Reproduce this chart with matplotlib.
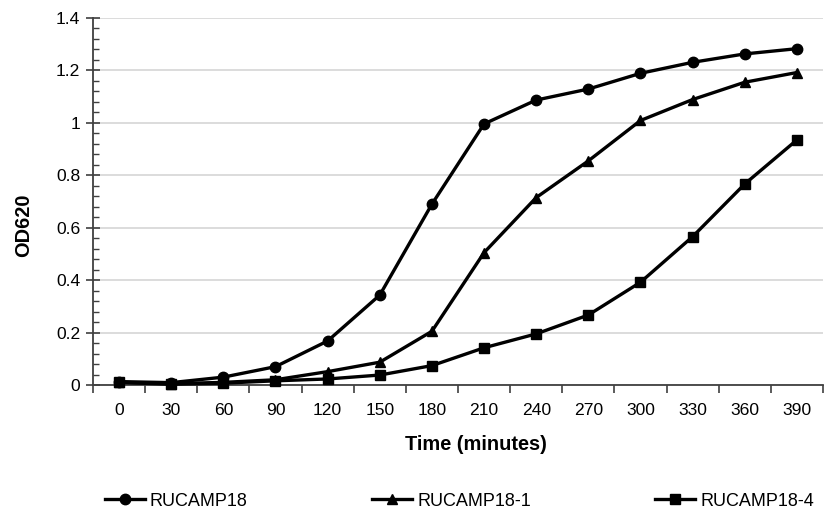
import numpy as np
import matplotlib
matplotlib.use("Agg")
import matplotlib.pyplot as plt
from matplotlib.ticker import FixedLocator, MultipleLocator, FixedFormatter

plt.rcParams['font.family'] = ['Liberation Sans', 'DejaVu Sans']

times = [0, 30, 60, 90, 120, 150, 180, 210, 240, 270, 300, 330, 360, 390]
rucamp18 = [0.013, 0.009, 0.03, 0.07, 0.168, 0.343, 0.69, 0.996, 1.087, 1.129,
            1.189, 1.231, 1.263, 1.283]
rucamp18_1 = [0.01, 0.005, 0.01, 0.02, 0.051, 0.087, 0.205, 0.505, 0.715, 0.855,
              1.009, 1.089, 1.155, 1.192]
rucamp18_4 = [0.01, 0.003, 0.007, 0.016, 0.023, 0.038, 0.074, 0.142, 0.195, 0.267,
              0.392, 0.566, 0.767, 0.935]


def main():
    fig = plt.figure(figsize=(8.29, 5.14), dpi=100)
    ax = fig.add_axes([93 / 829, 129 / 514, 730 / 829, 367 / 514])

    x = np.arange(len(times))
    style = dict(color='black', lw=2.4, markersize=7.5, clip_on=False, zorder=3)
    ax.plot(x, rucamp18, marker='o', label='RUCAMP18', **style)
    ax.plot(x, rucamp18_1, marker='^', label='RUCAMP18-1', **style)
    ax.plot(x, rucamp18_4, marker='s', label='RUCAMP18-4', **style)

    ax.set_xlim(-0.5, len(times) - 0.5)
    ax.set_ylim(0, 1.4)

    # category axis: ticks between categories, labels at centres
    ax.xaxis.set_major_locator(FixedLocator(np.arange(-0.5, len(times), 1.0)))
    ax.xaxis.set_major_formatter(FixedFormatter([''] * (len(times) + 1)))
    ax.xaxis.set_minor_locator(FixedLocator(x))
    ax.xaxis.set_minor_formatter(FixedFormatter([str(t) for t in times]))
    ax.tick_params(axis='x', which='major', direction='out', length=6, width=1.2,
                   color='#404040')
    ax.tick_params(axis='x', which='minor', length=0, pad=13, labelsize=12.6)

    ax.yaxis.set_major_locator(MultipleLocator(0.2))
    ax.yaxis.set_minor_locator(MultipleLocator(0.04))
    ax.set_yticks(np.arange(0, 1.41, 0.2))
    ax.set_yticklabels(['0', '0.2', '0.4', '0.6', '0.8', '1', '1.2', '1.4'])
    ax.tick_params(axis='y', which='major', direction='inout', length=10, width=1.2,
                   color='#404040', labelsize=12.6, pad=4)
    ax.tick_params(axis='y', which='minor', direction='in', length=4, width=1,
                   color='#404040')

    ax.grid(axis='y', which='major', color='#d9d9d9', lw=1.3)
    ax.set_axisbelow(True)
    for side in ['top', 'right']:
        ax.spines[side].set_visible(False)
    for side in ['left', 'bottom']:
        ax.spines[side].set_color('#404040')
        ax.spines[side].set_linewidth(1.3)

    ax.set_ylabel('OD620', fontsize=14.4, fontweight='bold')
    ax.yaxis.set_label_coords(-0.082, 0.436)
    ax.set_xlabel('Time (minutes)', fontsize=14.4, fontweight='bold')
    ax.xaxis.set_label_coords(0.525, -0.136)

    fig.legend(loc='center left', bbox_to_anchor=(105 / 829, 13 / 514), ncol=3,
               frameon=False, fontsize=13, handlelength=2.2, handletextpad=0.28,
               columnspacing=6.9, borderaxespad=0, borderpad=0)

    fig.savefig('out.png', dpi=100)


if __name__ == '__main__':
    main()
